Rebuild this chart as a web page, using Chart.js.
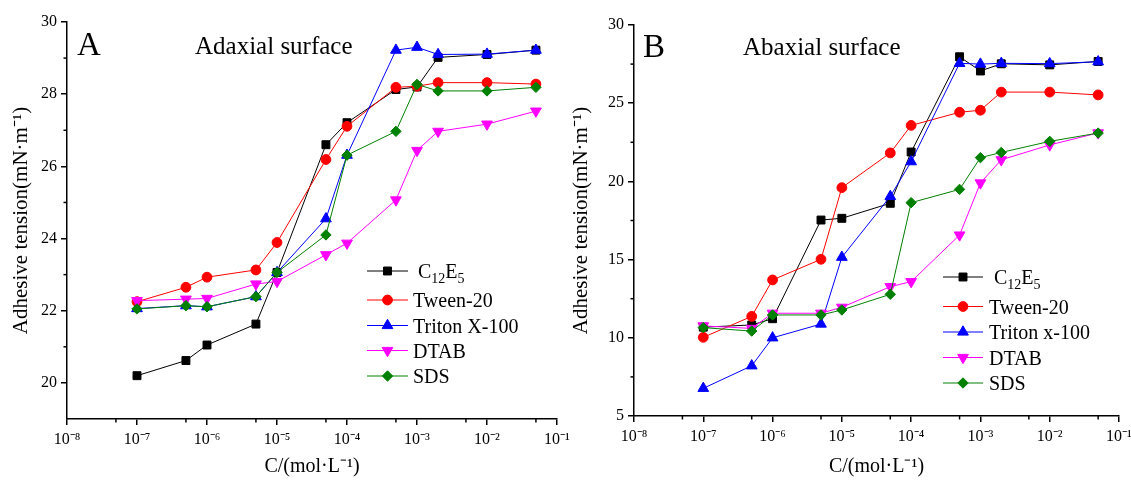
<!DOCTYPE html>
<html><head><meta charset="utf-8">
<script src="https://cdn.jsdelivr.net/npm/chart.js@4.4.1/dist/chart.umd.min.js"></script>
<style>
html,body{margin:0;padding:0;background:#fff;}
#wrap{position:relative;width:1131px;height:482px;overflow:hidden;background:#fff;}
canvas{position:absolute;top:0;}
#ca{left:0;}
#cb{left:565px;}
</style></head><body>
<div id="wrap"><canvas id="ca" width="585" height="482"></canvas><canvas id="cb" width="566" height="482"></canvas></div>
<script>
// ---------- data ----------
const concentrations = [1e-7, 5e-7, 1e-6, 5e-6, 1e-5, 5e-5, 1e-4, 5e-4, 1e-3, 2e-3, 1e-2, 5e-2];
const seriesNamesA = ['C12E5', 'Tween-20', 'Triton X-100', 'DTAB', 'SDS'];
const seriesNamesB = ['C12E5', 'Tween-20', 'Triton x-100', 'DTAB', 'SDS'];

const adaxialC12E5     = [20.20, 20.62, 21.05, 21.63, 23.06, 26.60, 27.21, 28.13, 28.20, 29.02, 29.10, 29.22];
const adaxialTween20   = [22.25, 22.65, 22.93, 23.13, 23.89, 26.19, 27.11, 28.19, 28.22, 28.32, 28.32, 28.28];
const adaxialTritonX100= [22.06, 22.14, 22.11, 22.39, 23.06, 24.55, 26.31, 29.22, 29.30, 29.10, 29.11, 29.22];
const adaxialDTAB      = [22.28, 22.32, 22.34, 22.74, 22.81, 23.55, 23.87, 25.07, 26.44, 26.97, 27.17, 27.53];
const adaxialSDS       = [22.05, 22.14, 22.11, 22.39, 23.06, 24.10, 26.31, 26.97, 28.27, 28.09, 28.09, 28.19];

const abaxialC12E5     = [10.68, 10.82, 11.22, 17.53, 17.64, 18.60, 21.88, 27.97, 27.06, 27.52, 27.45, 27.67];
const abaxialTween20   = [10.03, 11.37, 13.70, 15.02, 19.60, 21.82, 23.58, 24.42, 24.55, 25.71, 25.71, 25.53];
const abaxialTritonX100= [6.77, 8.21, 10.00, 10.88, 15.15, 19.04, 21.26, 27.55, 27.50, 27.55, 27.53, 27.65];
const abaxialDTAB      = [10.76, 10.60, 11.57, 11.57, 11.95, 13.27, 13.59, 16.57, 19.90, 21.38, 22.33, 23.10];
const abaxialSDS       = [10.65, 10.43, 11.46, 11.46, 11.78, 12.78, 18.64, 19.49, 21.52, 21.85, 22.56, 23.09];

const xMajorTicks = [1e-8, 1e-7, 1e-6, 1e-5, 1e-4, 1e-3, 1e-2, 1e-1];
const xMinorTicks = [5e-8, 5e-7, 5e-6, 5e-5, 5e-4, 5e-3, 5e-2];
const yMajorTicksA = [20, 22, 24, 26, 28, 30];
const yMinorTicksA = [21, 23, 25, 27, 29];
const yMajorTicksB = [5, 10, 15, 20, 25, 30];
const yMinorTicksB = [7.5, 12.5, 17.5, 22.5, 27.5];
const yTitle = 'Adhesive tension(mN·m⁻¹)';
const xTitle = 'C/(mol·L⁻¹)';

// ---------- styles ----------
const FONT = "'Liberation Serif', 'Times New Roman', serif";
const colors = ['#000000', '#ff0000', '#0000ff', '#ff00ff', '#008000'];
const pStyles = ['rect', 'circle', 'triangle', 'triangle', 'rectRot'];
const pRot = [0, 0, 0, 180, 0];
const pRad = [5.6, 4.9, 6.2, 6.2, 5.2];
const drawOrder = [4, 3, 2, 1, 0]; // later series on top

const SUP = {'-':'⁻','0':'⁰','1':'¹','2':'²','3':'³','4':'⁴','5':'⁵','6':'⁶','7':'⁷','8':'⁸','9':'⁹'};
function supText(s){ return String(s).split('').map(c => SUP[c] || c).join(''); }

function drawMarker(ctx, style, rot, r, x, y, color){
  ctx.save();
  ctx.fillStyle = color; ctx.strokeStyle = color; ctx.lineWidth = 1;
  ctx.beginPath();
  if (style === 'rect') {
    const s = Math.SQRT1_2 * r; ctx.rect(x - s, y - s, 2*s, 2*s);
  } else if (style === 'circle') {
    ctx.arc(x, y, r, 0, Math.PI*2);
  } else if (style === 'triangle') {
    let rad = rot * Math.PI / 180;
    ctx.moveTo(x + Math.sin(rad)*r, y - Math.cos(rad)*r);
    rad += 2*Math.PI/3; ctx.lineTo(x + Math.sin(rad)*r, y - Math.cos(rad)*r);
    rad += 2*Math.PI/3; ctx.lineTo(x + Math.sin(rad)*r, y - Math.cos(rad)*r);
    ctx.closePath();
  } else if (style === 'rectRot') {
    ctx.moveTo(x - r, y); ctx.lineTo(x, y - r); ctx.lineTo(x + r, y); ctx.lineTo(x, y + r); ctx.closePath();
  }
  ctx.fill(); ctx.stroke();
  ctx.restore();
}

function drawLabelText(ctx, label, x, y){
  // renders C12E5 with subscripts
  const m = /^([A-Z])(\d+)([A-Z])(\d+)$/.exec(label);
  ctx.textBaseline = 'alphabetic'; ctx.textAlign = 'left'; ctx.fillStyle = '#000';
  const base = y + 7;
  if (m) {
    let cx = x + 5;
    const big = '20px ' + FONT, small = '14px ' + FONT;
    [[m[1], big, 0], [m[2], small, 5], [m[3], big, 0], [m[4], small, 5]].forEach(([t, f, dy]) => {
      ctx.font = f; ctx.fillText(t, cx, base + dy); cx += ctx.measureText(t).width;
    });
  } else {
    ctx.font = '20px ' + FONT; ctx.fillText(label, x, base);
  }
}

const decorPlugin = {
  id: 'decor',
  afterDraw(chart){
    const o = chart.options.plugins.decor; if (!o) return;
    const ctx = chart.ctx, xs = chart.scales.x, ys = chart.scales.y;
    ctx.save();
    ctx.strokeStyle = '#000'; ctx.lineWidth = 1.5;
    o.xMinor.forEach(v => { const px = xs.getPixelForValue(v); ctx.beginPath(); ctx.moveTo(px, xs.top); ctx.lineTo(px, xs.top + 3.5); ctx.stroke(); });
    o.yMinor.forEach(v => { const py = ys.getPixelForValue(v); ctx.beginPath(); ctx.moveTo(ys.right, py); ctx.lineTo(ys.right - 3.5, py); ctx.stroke(); });
    // panel letter and title
    ctx.fillStyle = '#000'; ctx.textBaseline = 'alphabetic'; ctx.textAlign = 'left';
    ctx.font = '33px ' + FONT; ctx.fillText(o.letter, o.letterX, o.letterY);
    ctx.font = '25px ' + FONT; ctx.fillText(o.title, o.titleX, o.titleY);
    // legend
    chart.data.datasets.forEach((ds, i) => {
      const y = o.legRows[i];
      ctx.strokeStyle = ds.borderColor; ctx.lineWidth = 1;
      ctx.beginPath(); ctx.moveTo(o.legX0, y); ctx.lineTo(o.legX1, y); ctx.stroke();
      drawMarker(ctx, pStyles[i], pRot[i], pRad[i], (o.legX0 + o.legX1)/2, y, colors[i]);
      drawLabelText(ctx, ds.label, o.legTextX, y);
    });
    ctx.restore();
  }
};

function makeChart(canvasId, names, seriesList, yMin, yMax, yMajor, yMinor, geom, decor){
  const W = geom.W, H = geom.H;
  const datasets = seriesList.map((vals, i) => ({
    label: names[i],
    data: concentrations.map((c, k) => ({x: c, y: vals[k]})),
    borderColor: colors[i], backgroundColor: colors[i],
    borderWidth: 1,
    pointStyle: pStyles[i], rotation: pRot[i], pointRadius: pRad[i],
    pointBorderColor: colors[i], pointBackgroundColor: colors[i], pointBorderWidth: 1,
    pointHoverRadius: pRad[i],
    order: drawOrder[i], tension: 0, fill: false
  }));
  return new Chart(document.getElementById(canvasId), {
    type: 'line',
    data: { datasets },
    plugins: [decorPlugin],
    options: {
      responsive: false, animation: false, devicePixelRatio: 1,
      layout: { padding: { left: 0, top: geom.top, right: W - geom.right, bottom: 0 } },
      plugins: { legend: { display: false }, tooltip: { enabled: false }, decor },
      scales: {
        x: {
          type: 'logarithmic', min: 1e-8, max: 1e-1,
          afterBuildTicks: s => { s.ticks = xMajorTicks.map(v => ({ value: v, major: true })); },
          afterFit: s => { s.height = H - geom.bottom; s.paddingLeft = 0; s.paddingRight = 0; },
          ticks: { color: '#000', font: { family: FONT, size: 16 }, padding: 5, maxRotation: 0, autoSkip: false,
            callback: v => '10' + supText(Math.round(Math.log10(v))) },
          grid: { display: true, drawOnChartArea: false, drawTicks: true, tickLength: 6, color: '#000', lineWidth: 1.5 },
          border: { display: true, color: '#000', width: 1.5 },
          title: { display: true, text: xTitle, color: '#000', font: { family: FONT, size: 20 }, padding: { top: 0, bottom: 3 } }
        },
        y: {
          type: 'linear', min: yMin, max: yMax,
          afterBuildTicks: s => { s.ticks = yMajor.map(v => ({ value: v })); },
          afterFit: s => { s.width = geom.left; s.paddingTop = 0; s.paddingBottom = 0; },
          ticks: { color: '#000', font: { family: FONT, size: 16 }, padding: 4, callback: v => String(v) },
          grid: { display: true, drawOnChartArea: false, drawTicks: true, tickLength: 6, color: '#000', lineWidth: 1.5 },
          border: { display: true, color: '#000', width: 1.5 },
          title: { display: true, text: yTitle, color: '#000', font: { family: FONT, size: 21 }, padding: { top: geom.yTitlePad, bottom: 0 } }
        }
      }
    }
  });
}

makeChart('ca', seriesNamesA,
  [adaxialC12E5, adaxialTween20, adaxialTritonX100, adaxialDTAB, adaxialSDS],
  19, 30, yMajorTicksA, yMinorTicksA,
  { W: 585, H: 482, left: 67, right: 557, top: 22, bottom: 419, yTitlePad: 9 },
  { xMinor: xMinorTicks, yMinor: yMinorTicksA, letter: 'A', letterX: 77, letterY: 55,
    title: 'Adaxial surface', titleX: 195, titleY: 54,
    legX0: 367, legX1: 408, legTextX: 413, legRows: [271, 300, 325.5, 350.5, 376] });

makeChart('cb', seriesNamesB,
  [abaxialC12E5, abaxialTween20, abaxialTritonX100, abaxialDTAB, abaxialSDS],
  5, 30, yMajorTicksB, yMinorTicksB,
  { W: 566, H: 482, left: 69, right: 554, top: 25, bottom: 416, yTitlePad: 4 },
  { xMinor: xMinorTicks, yMinor: yMinorTicksB, letter: 'B', letterX: 78, letterY: 57,
    title: 'Abaxial surface', titleX: 178, titleY: 55,
    legX0: 378, legX1: 418, legTextX: 424, legRows: [277, 306.5, 332, 357.5, 383] });
</script>
</body></html>
